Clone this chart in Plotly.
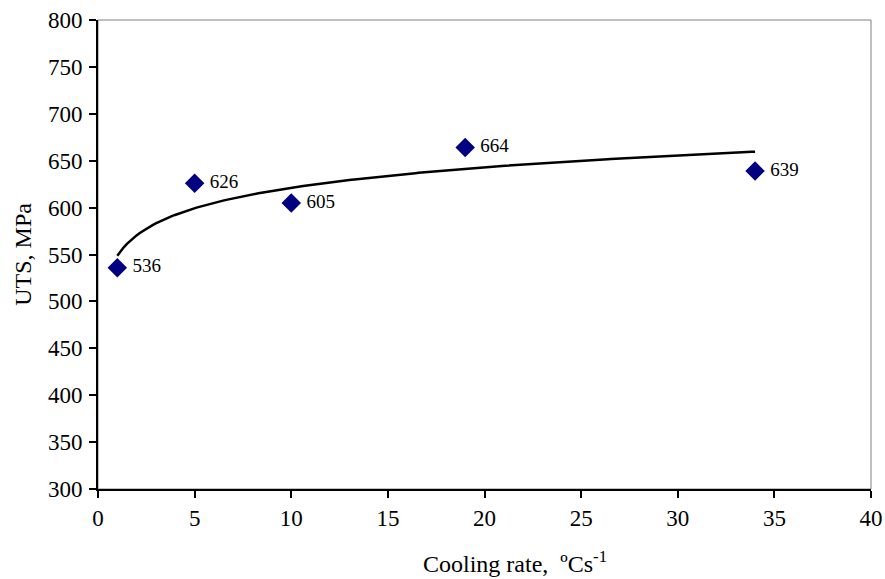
import numpy as np
import plotly.graph_objects as go

# Cooling rate (°C/s) and ultimate tensile strength (MPa)
cooling_rate = [1, 5, 10, 19, 34]
uts = [536, 626, 605, 664, 639]
point_labels = [" " + str(v) for v in uts]

x_ticks = [0, 5, 10, 15, 20, 25, 30, 35, 40]
y_ticks = [300, 350, 400, 450, 500, 550, 600, 650, 700, 750, 800]

# Logarithmic trend line  y = a*ln(x) + b  fitted to the measurements
a, b = np.polyfit(np.log(cooling_rate), uts, 1)
x_fit = np.linspace(min(cooling_rate), max(cooling_rate), 200)
y_fit = a * np.log(x_fit) + b

SERIF = "Liberation Serif"

fig = go.Figure()
fig.add_trace(go.Scatter(
    x=x_fit, y=y_fit, mode="lines",
    line=dict(color="black", width=2.5),
    hoverinfo="skip", showlegend=False,
))
fig.add_trace(go.Scatter(
    x=cooling_rate, y=uts, mode="markers+text",
    marker=dict(symbol="diamond", size=15, color="#000080"),
    text=point_labels, textposition="middle right",
    textfont=dict(family=SERIF, size=19, color="black"),
    showlegend=False,
))

fig.update_layout(
    template="none",
    width=885, height=579,
    margin=dict(l=98, r=14, t=20, b=90, autoexpand=False),
    paper_bgcolor="white", plot_bgcolor="white",
    font=dict(family=SERIF, color="black"),
    shapes=[dict(type="rect", xref="paper", yref="paper", x0=0, y0=0, x1=1, y1=1,
                 line=dict(color="#808080", width=1), layer="below")],
    annotations=[
        dict(text="Cooling rate,  ºCs<sup>-1</sup>", xref="paper", yref="paper",
             x=0.54, y=-0.155, xanchor="center", yanchor="middle", showarrow=False,
             font=dict(family=SERIF, size=24, color="black")),
        dict(text="UTS, MPa", xref="paper", yref="paper", textangle=-90,
             x=-0.098, y=0.5, xanchor="center", yanchor="middle", showarrow=False,
             font=dict(family=SERIF, size=24, color="black")),
    ],
)
fig.update_xaxes(
    range=[0, 40], tickvals=x_ticks, ticks="outside", ticklen=7, tickwidth=1.5,
    tickcolor="black", showline=True, linecolor="black", linewidth=2,
    showgrid=False, zeroline=False, automargin=False,
    tickfont=dict(family=SERIF, size=23, color="black"),
)
fig.update_yaxes(
    range=[300, 800], tickvals=y_ticks, ticks="outside", ticklen=7, tickwidth=1.5,
    tickcolor="black", showline=True, linecolor="black", linewidth=2,
    showgrid=False, zeroline=False, automargin=False, ticklabelstandoff=2,
    tickfont=dict(family=SERIF, size=23, color="black"),
)

fig.write_html("out.html")
